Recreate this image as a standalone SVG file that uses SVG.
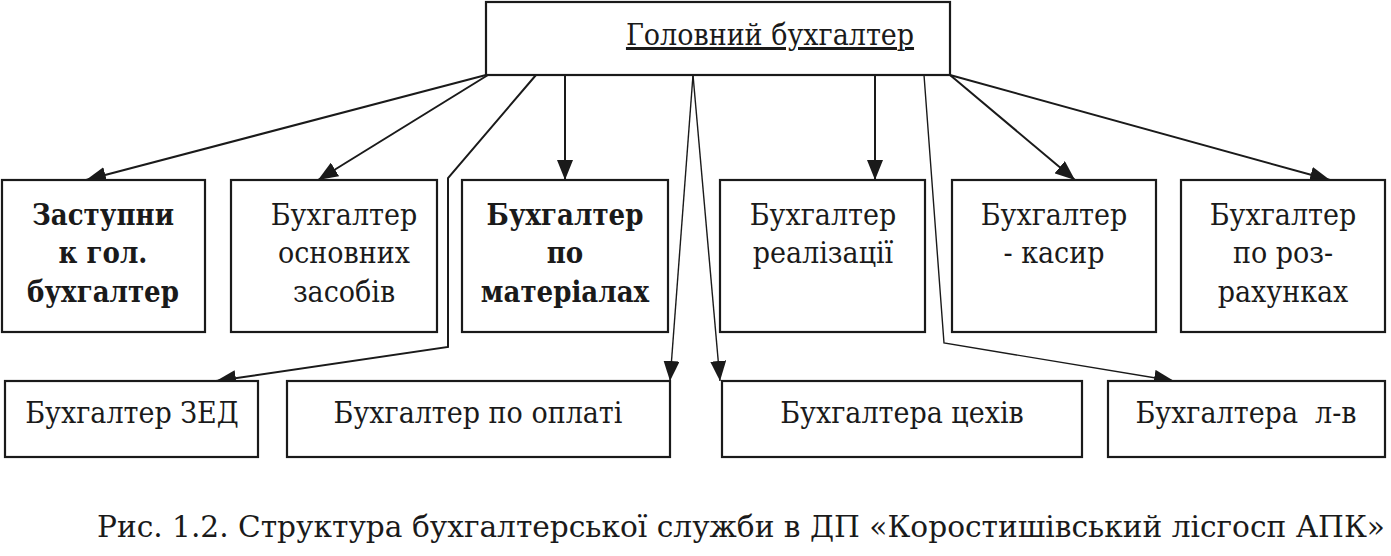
<svg xmlns="http://www.w3.org/2000/svg" width="1391" height="556" viewBox="0 0 1391 556">
<style>
.box{fill:#fff;stroke:#1a1a1a;stroke-width:2.2}
.t{font-family:"DejaVu Serif Condensed","DejaVu Serif","Liberation Serif",serif;font-stretch:condensed;font-size:30px;fill:#1a1a1a;text-anchor:middle}
.b{font-weight:bold;font-size:29px}
.c{fill:none;stroke:#1a1a1a;stroke-width:2}
.thin{fill:none;stroke:#1a1a1a;stroke-width:1.4}
</style>
<defs>
<marker id="ahl" viewBox="0 0 10 10" refX="10" refY="5" markerWidth="20" markerHeight="16" markerUnits="userSpaceOnUse" orient="auto" preserveAspectRatio="none">
<path d="M0,0 L10,5 L0,10 Z" fill="#1a1a1a"/>
</marker>
</defs>
<rect width="1391" height="556" fill="#fff"/>
<g id="connectors">
<line class="c" x1="486" y1="75" x2="86" y2="180" marker-end="url(#ahl)"/>
<line class="c" x1="488" y1="75" x2="318" y2="180" marker-end="url(#ahl)"/>
<polyline class="c" points="536,75 448,178 448,347 216,381" marker-end="url(#ahl)"/>
<line class="c" x1="565" y1="75" x2="565" y2="180" marker-end="url(#ahl)"/>
<line class="thin" x1="693" y1="75" x2="670" y2="381" marker-end="url(#ahl)"/>
<line class="thin" x1="693" y1="75" x2="720" y2="381" marker-end="url(#ahl)"/>
<line class="c" x1="875" y1="75" x2="875" y2="180" marker-end="url(#ahl)"/>
<polyline class="thin" points="924,75 944,343 1174,381" marker-end="url(#ahl)"/>
<line class="c" x1="950" y1="75" x2="1075" y2="180" marker-end="url(#ahl)"/>
<line class="c" x1="950" y1="75" x2="1330" y2="180" marker-end="url(#ahl)"/>
</g>
<g id="n-head">
<rect class="box" x="486" y="2" width="464" height="73"/>
<text class="t" x="770" y="45" font-size="32" text-decoration="underline">Головний бухгалтер</text>
</g>
<g id="n-deputy">
<rect class="box" x="2" y="180" width="203" height="152"/>
<text class="t b" x="103" y="225">Заступни</text>
<text class="t b" x="103" y="263">к гол.</text>
<text class="t b" x="103" y="302">бухгалтер</text>
</g>
<g id="n-fixed">
<rect class="box" x="231" y="180" width="206" height="152"/>
<text class="t" x="344" y="225">Бухгалтер</text>
<text class="t" x="344" y="263">основних</text>
<text class="t" x="344" y="302">засобів</text>
</g>
<g id="n-materials">
<rect class="box" x="462" y="180" width="206" height="152"/>
<text class="t b" x="565" y="225">Бухгалтер</text>
<text class="t b" x="565" y="263">по</text>
<text class="t b" x="565" y="302">матеріалах</text>
</g>
<g id="n-sales">
<rect class="box" x="720" y="180" width="205" height="152"/>
<text class="t" x="823" y="225">Бухгалтер</text>
<text class="t" x="823" y="263">реалізації</text>
</g>
<g id="n-cashier">
<rect class="box" x="952" y="180" width="204" height="152"/>
<text class="t" x="1054" y="225">Бухгалтер</text>
<text class="t" x="1054" y="263">- касир</text>
</g>
<g id="n-settle">
<rect class="box" x="1181" y="180" width="204" height="152"/>
<text class="t" x="1283" y="225">Бухгалтер</text>
<text class="t" x="1283" y="263">по роз-</text>
<text class="t" x="1283" y="302">рахунках</text>
</g>
<g id="n-zed">
<rect class="box" x="5" y="381" width="253" height="76"/>
<text class="t" x="132" y="423">Бухгалтер ЗЕД</text>
</g>
<g id="n-pay">
<rect class="box" x="287" y="381" width="383" height="76"/>
<text class="t" x="478" y="423">Бухгалтер по оплаті</text>
</g>
<g id="n-shops">
<rect class="box" x="722" y="381" width="360" height="76"/>
<text class="t" x="902" y="423">Бухгалтера цехів</text>
</g>
<g id="n-lv">
<rect class="box" x="1108" y="381" width="277" height="76"/>
<text class="t" x="1246" y="423" xml:space="preserve">Бухгалтера  л-в</text>
</g>
<text class="t" x="741" y="537" textLength="1288" lengthAdjust="spacingAndGlyphs">Рис. 1.2. Структура бухгалтерської служби в ДП «Коростишівський лісгосп АПК»</text>
</svg>
